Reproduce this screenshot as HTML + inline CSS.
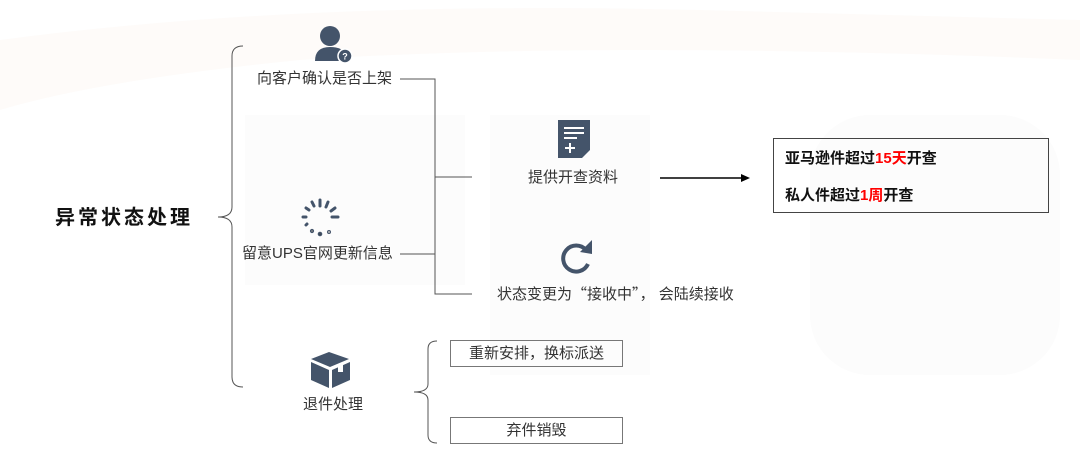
<!DOCTYPE html>
<html><head><meta charset="utf-8"><style>
body{margin:0;width:1080px;height:466px;background:#fff;position:relative;overflow:hidden;font-family:"Liberation Sans","Noto Sans CJK SC",sans-serif;color:#333}
.t{position:absolute;font-size:15px;white-space:nowrap;line-height:18px}
.q{font-family:"Noto Sans CJK SC",sans-serif}
.box{position:absolute;border:1px solid #777;font-size:15px;text-align:center;box-sizing:border-box}
</style></head><body>
<svg width="1080" height="466" style="position:absolute;left:0;top:0">
<path d="M0 40 Q300 0 700 10 L1080 20 L1080 60 Q600 40 300 60 Q100 80 0 110Z" fill="#fefbf9"/>
<rect x="245" y="115" width="220" height="170" fill="#fcfcfc"/>
<rect x="490" y="115" width="160" height="260" fill="#fcfcfc"/>
<rect x="810" y="115" width="250" height="260" rx="60" fill="#fcfcfc"/>
<g stroke="#555" fill="none" stroke-width="1">
<path d="M243 46 Q232 46 232 56 L232 207 Q232 217 218 217 Q232 217 232 227 L232 377 Q232 387 243 387"/>
<path d="M437 341 Q428 341 428 349 L428 384 Q428 392 414 392 Q428 392 428 400 L428 435 Q428 443 437 443"/>
<path d="M400 79 H435 V294 H472 M435 177 H472 M400 254 H435"/>
</g>
<line x1="660" y1="178" x2="742" y2="178" stroke="#000" stroke-width="1.5"/>
<polygon points="750,178 741,174 741,182" fill="#000"/>
<g fill="#44546a"><circle cx="330" cy="36" r="10"/><path d="M315 61 Q315 47 330 47 Q343 47 346 55 L346 61Z"/><circle cx="345" cy="56" r="7" stroke="#fff" stroke-width="1.5"/></g>
<text x="345" y="59.5" font-size="9" fill="#fff" text-anchor="middle" font-family="Liberation Sans" font-weight="bold">?</text>
<g stroke="#44546a" stroke-width="3" stroke-linecap="round">
<line x1="320" y1="200" x2="320" y2="206"/><line x1="328" y1="202" x2="326" y2="207"/><line x1="335" y1="208" x2="331" y2="211"/><line x1="338" y1="217" x2="332" y2="217"/>
<line x1="312" y1="202" x2="314" y2="206"/><line x1="306" y1="208" x2="309" y2="210"/><line x1="303" y1="217" x2="306" y2="217"/><line x1="306" y1="225" x2="307" y2="224"/>
<circle cx="312" cy="231" r="0.6"/><circle cx="320" cy="234" r="0.8"/><circle cx="329" cy="232" r="0.5"/></g>
<path d="M558 120 H590 V150 L582 158 H558Z" fill="#44546a"/>
<g stroke="#fff" stroke-width="2"><line x1="564" y1="128" x2="584" y2="128"/><line x1="564" y1="133" x2="584" y2="133"/><line x1="564" y1="138" x2="577" y2="138"/><line x1="570" y1="143" x2="570" y2="153"/><line x1="565" y1="148" x2="575" y2="148"/></g>
<path d="M586 250 A13 13 0 1 0 588 264" stroke="#44546a" stroke-width="4" fill="none"/>
<polygon points="592,240 592,254 580,252" fill="#44546a"/>
<g fill="#44546a"><polygon points="311,362 329,370 329,388 311,380"/><polygon points="332,370 350,362 350,380 332,388"/><polygon points="311,359 329,352 349,359 330,367"/></g>
<rect x="338" y="364" width="5" height="8" fill="#fff"/>
</svg>
<div class="t" style="left:55px;top:205px;font-size:20px;font-weight:bold;letter-spacing:3px;color:#111;line-height:26px">异常状态处理</div>
<div class="t" style="left:257px;top:70px">向客户确认是否上架</div>
<div class="t" style="left:242px;top:245px">留意UPS官网更新信息</div>
<div class="t" style="left:303px;top:396px">退件处理</div>
<div class="t" style="left:528px;top:169px">提供开查资料</div>
<div class="t" style="left:497px;top:285px">状态变更为<span class="q">“</span>接收中<span class="q">”</span>， 会陆续接收</div>
<div class="box" style="left:773px;top:138px;width:276px;height:75px;border-color:#444">
<div class="t" style="left:11px;top:11px;font-weight:bold;color:#111">亚马逊件超过<span style="color:#f00">15天</span>开查</div>
<div class="t" style="left:11px;top:48px;font-weight:bold;color:#111">私人件超过<span style="color:#f00">1周</span>开查</div></div>
<div class="box" style="left:450px;top:340px;width:173px;height:27px;line-height:25px">重新安排，换标派送</div>
<div class="box" style="left:450px;top:417px;width:173px;height:27px;line-height:25px">弃件销毁</div>
</body></html>
